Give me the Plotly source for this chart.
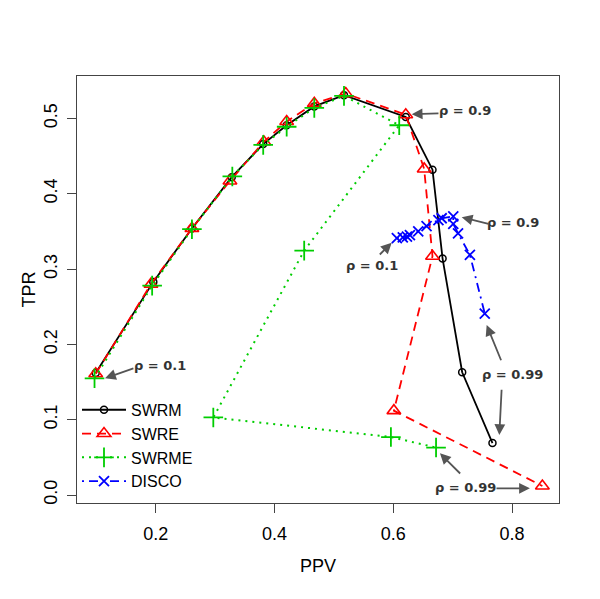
import plotly.graph_objects as go

# ---- data ----
swrm_ppv = [0.099, 0.196, 0.261, 0.328, 0.381, 0.4205, 0.467, 0.517, 0.621, 0.666, 0.683, 0.716, 0.767]
swrm_tpr = [0.162, 0.283, 0.354, 0.422, 0.466, 0.491, 0.516, 0.531, 0.502, 0.432, 0.314, 0.163, 0.069]

swre_ppv = [0.099, 0.192, 0.261, 0.325, 0.382, 0.4205, 0.467, 0.520, 0.621, 0.652, 0.666, 0.601, 0.851]
swre_tpr = [0.161, 0.280, 0.354, 0.417, 0.469, 0.496, 0.520, 0.533, 0.505, 0.433, 0.317, 0.112, 0.012]

swrme_ppv = [0.097, 0.194, 0.261, 0.329, 0.381, 0.4205, 0.467, 0.517, 0.610, 0.450, 0.297, 0.596, 0.672]
swrme_tpr = [0.155, 0.278, 0.353, 0.423, 0.465, 0.489, 0.514, 0.530, 0.491, 0.3245, 0.103, 0.077, 0.063]

disco_ppv = [0.606, 0.616, 0.623, 0.628, 0.642, 0.656, 0.676, 0.6815, 0.701, 0.701, 0.709, 0.729, 0.754]
disco_tpr = [0.341, 0.342, 0.343, 0.345, 0.350, 0.357, 0.365, 0.3675, 0.370, 0.360, 0.3475, 0.319, 0.241]

x_ticks = [0.2, 0.4, 0.6, 0.8]
y_ticks = [0.0, 0.1, 0.2, 0.3, 0.4, 0.5]

# annotation labels: (text, x, y)
labels = [
    ("ρ = 0.9", 0.721, 0.510),
    ("ρ = 0.9", 0.802, 0.362),
    ("ρ = 0.1", 0.5636, 0.3045),
    ("ρ = 0.1", 0.2072, 0.1717),
    ("ρ = 0.99", 0.801, 0.160),
    ("ρ = 0.99", 0.7224, 0.0102),
]
# arrows: (head_x, head_y, tail_x, tail_y)
arrows = [
    (0.631, 0.5056, 0.6786, 0.5069),
    (0.7152, 0.3688, 0.7628, 0.3595),
    (0.5973, 0.335, 0.5748, 0.3174),
    (0.1147, 0.155, 0.165, 0.169),
    (0.7572, 0.2258, 0.7825, 0.177),
    (0.7785, 0.0797, 0.7825, 0.1417),
    (0.830, 0.0089, 0.7712, 0.0089),
    (0.6786, 0.0554, 0.7151, 0.0266),
]

FONT = "Arial, Liberation Sans, sans-serif"

fig = go.Figure()
fig.add_trace(go.Scatter(
    x=swrm_ppv, y=swrm_tpr, name="SWRM", mode="lines+markers",
    line=dict(color="black", width=1.8),
    marker=dict(symbol="circle-open", size=7, color="black", line=dict(width=1.5)),
))
fig.add_trace(go.Scatter(
    x=swre_ppv, y=swre_tpr, name="SWRE", mode="lines+markers",
    line=dict(color="#FF0000", width=1.8, dash="9px,6px"),
    marker=dict(symbol="triangle-up-open", size=12, color="#FF0000", line=dict(width=1.6)),
))
fig.add_trace(go.Scatter(
    x=swrme_ppv, y=swrme_tpr, name="SWRME", mode="lines+markers",
    line=dict(color="#00CD00", width=2, dash="2px,5px"),
    marker=dict(symbol="cross-thin-open", size=14, color="#00CD00", line=dict(width=1.8, color="#00CD00")),
))
fig.add_trace(go.Scatter(
    x=disco_ppv, y=disco_tpr, name="DISCO", mode="lines+markers",
    line=dict(color="#0000FF", width=1.8, dash="2px,5px,9px,5px"),
    marker=dict(symbol="x-thin-open", size=10, color="#0000FF", line=dict(width=1.8, color="#0000FF")),
))

for t, x, y in labels:
    fig.add_annotation(x=x, y=y, xref="x", yref="y", text="<b>" + t + "</b>",
                       showarrow=False, font=dict(family="Tahoma, DejaVu Sans, sans-serif", size=13, color="#333333"))
for hx, hy, tx, ty in arrows:
    fig.add_annotation(x=hx, y=hy, ax=tx, ay=ty, xref="x", yref="y", axref="x", ayref="y",
                       text="", showarrow=True, arrowhead=2, arrowsize=1.2, arrowwidth=1.8,
                       arrowcolor="#555555", standoff=0, startstandoff=0)

axis_common = dict(showline=True, mirror=True, linecolor="#444444", linewidth=1.3,
                   ticks="outside", ticklen=9, tickcolor="#444444", tickwidth=1.3,
                   showgrid=False, zeroline=False, automargin=False,
                   tickfont=dict(family=FONT, size=18, color="black"))

fig.update_xaxes(range=[0.0675, 0.879], tickvals=x_ticks, ticktext=[f"{v:.1f}" for v in x_ticks],
                 title=dict(text="PPV", font=dict(family=FONT, size=18, color="black"), standoff=16),
                 ticklabelstandoff=5, **axis_common)
fig.update_yaxes(range=[-0.0106, 0.5564], tickvals=y_ticks, ticktext=[f"{v:.1f}" for v in y_ticks],
                 tickangle=-90,
                 title=dict(text="TPR", font=dict(family=FONT, size=18, color="black"), standoff=0),
                 ticklabelstandoff=3, **axis_common)

# the page body adds an 8px offset; margins compensate so the plot lands where the reference has it
fig.update_layout(
    width=600, height=599,
    margin=dict(l=69, r=49, t=68, b=104),
    paper_bgcolor="white", plot_bgcolor="white",
    font=dict(family=FONT, color="black"),
    legend=dict(x=0.0, y=0.258, xanchor="left", yanchor="top",
                bgcolor="rgba(0,0,0,0)", font=dict(family=FONT, size=16, color="black"),
                tracegroupgap=0, itemwidth=44),
    showlegend=True,
)

fig.write_html("out.html")
